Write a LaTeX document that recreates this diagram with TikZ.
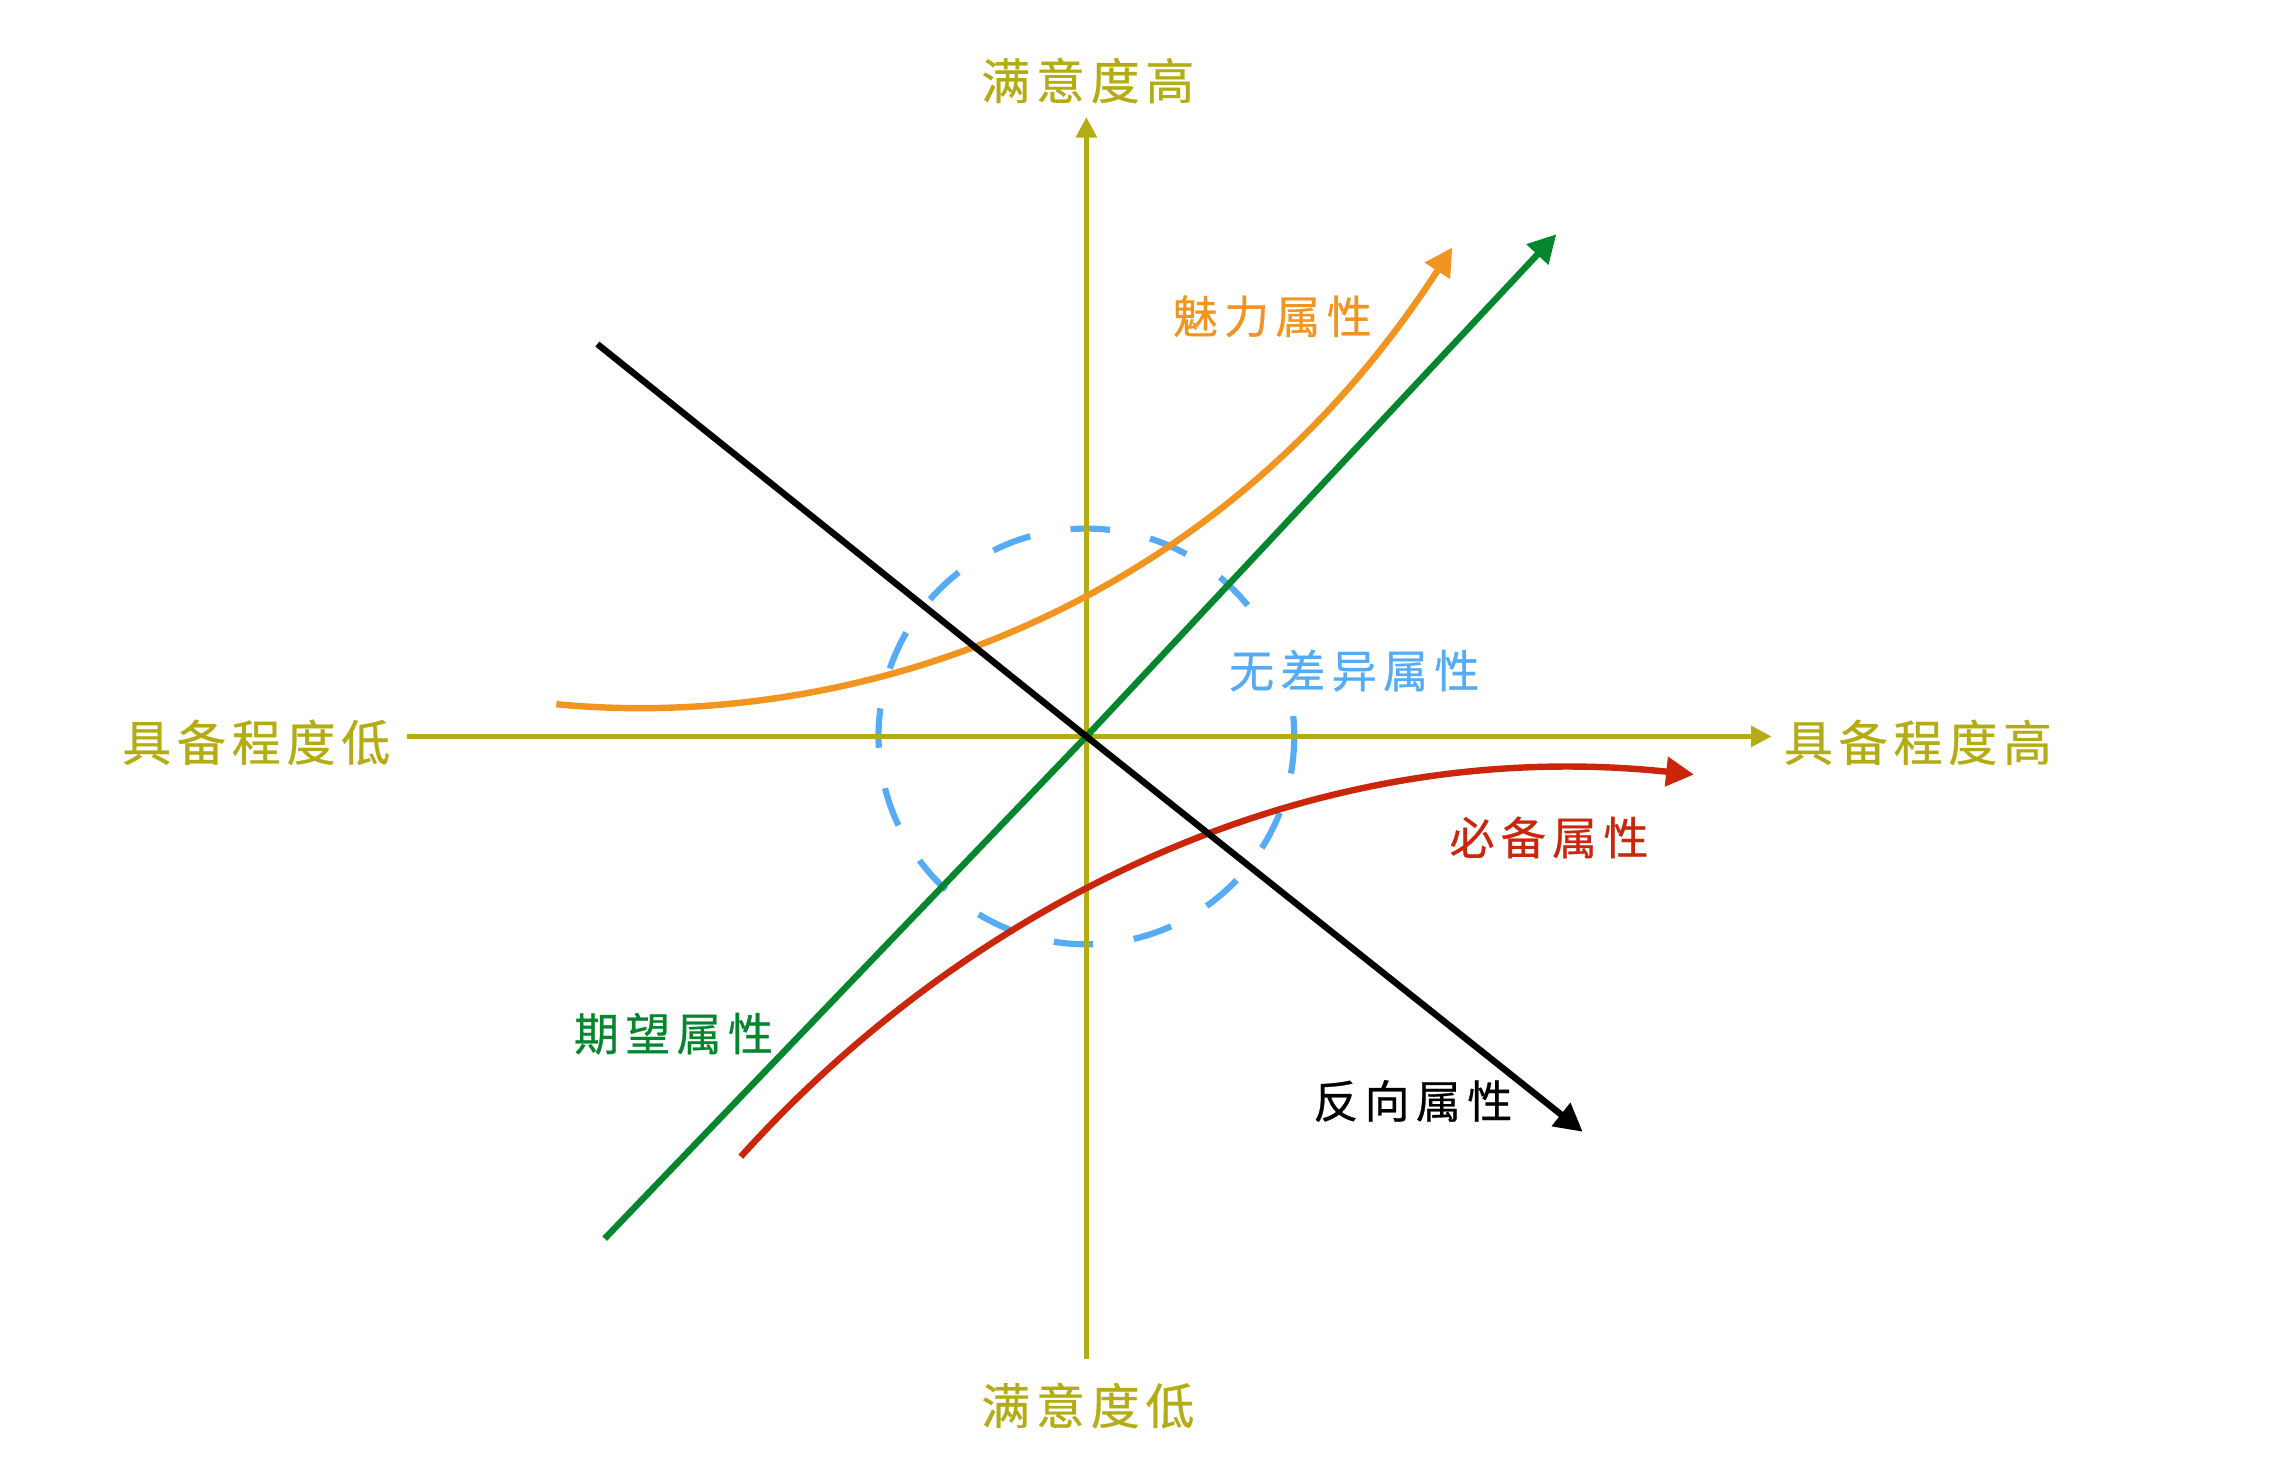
\documentclass[tikz,border=0pt]{standalone}
\usepackage{fontspec}
\usetikzlibrary{arrows.meta}
\newfontfamily\axisfont[LetterSpace=12, FakeBold=0.6]{Noto Sans CJK SC}
\newfontfamily\attrfont[LetterSpace=14, FakeBold=0.6]{Noto Sans CJK SC}
\definecolor{axisolive}{RGB}{180,172,20}
\definecolor{attrorange}{RGB}{242,148,32}
\definecolor{attrgreen}{RGB}{3,134,46}
\definecolor{attrred}{RGB}{201,38,12}
\definecolor{attrblue}{RGB}{85,171,246}
\begin{document}
\begin{tikzpicture}[x=0.02cm, y=-0.02cm,
	axisline/.style = {line width=1.8pt, axisolive, -{Triangle[length=0.28cm, width=0.28cm]}},
	axislabel/.style = {axisolive, font=\axisfont\fontsize{19pt}{19pt}\selectfont, inner sep=1pt},
	attrline/.style = {line width=2.5pt, -{Triangle[length=0.38cm, width=0.39cm]}},
	attrlabel/.style = {font=\attrfont\fontsize{17.5pt}{17.5pt}\selectfont, inner sep=2pt}]
	\useasboundingbox (0,0) rectangle (1560,1001.3);

	\coordinate (O) at (742,503);
	\coordinate (xlow) at (278,503);
	\coordinate (xhigh) at (1210,503);
	\coordinate (ylow) at (742,928);
	\coordinate (yhigh) at (742,80);

	\draw [attrblue, line width=2.4pt, dash pattern=on 0.54cm off 0.56cm, dash phase=0.262cm] (O) circle [radius=2.84cm];
	\node [attrlabel, attrblue, fill=white, inner ysep=5pt] (indiff) at (925,458) {无差异属性};

	\draw [axisline] (xlow) -- (xhigh);
	\draw [axisline] (ylow) -- (yhigh);
	\node [axislabel] (yhighlabel) at (743,55) {满意度高};
	\node [axislabel] (ylowlabel) at (743,960) {满意度低};
	\node [axislabel] (xlowlabel) at (175,507) {具备程度低};
	\node [axislabel] (xhighlabel) at (1310,507) {具备程度高};

	\coordinate (attrstart) at (380,481);
	\coordinate (attrend) at (992,169);
	\draw [attrline, attrorange] (attrstart) .. controls (580,500) and (830,420) .. (attrend);
	\node [attrlabel, attrorange] (attract) at (869,216) {魅力属性};

	\coordinate (onestart) at (413,846);
	\coordinate (oneend) at (1063,160);
	\draw [attrline, attrgreen] (onestart) -- (O) -- (oneend);
	\node [attrlabel, attrgreen] (onedim) at (460,706) {期望属性};

	\coordinate (muststart) at (506,790);
	\coordinate (mustend) at (1157,529);
	\draw [attrline, attrred] (muststart) .. controls (650,630) and (880,500) .. (mustend);
	\node [attrlabel, attrred] (mustbe) at (1058,572) {必备属性};

	\coordinate (revstart) at (408,235);
	\coordinate (revend) at (1081,773);
	\draw [attrline, black] (revstart) -- (O) -- (revend);
	\node [attrlabel, black] (reverse) at (965,752) {反向属性};
\end{tikzpicture}
\end{document}
